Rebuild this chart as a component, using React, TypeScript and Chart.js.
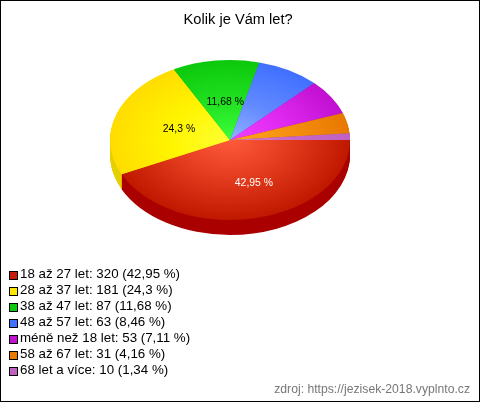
import React, { useEffect, useRef } from "react";
import { Chart, registerables } from "chart.js";

Chart.register(...registerables);

const categories = ["18 až 27 let", "28 až 37 let", "38 až 47 let", "48 až 57 let", "méně než 18 let", "58 až 67 let", "68 let a více"];
const counts = [320, 181, 87, 63, 53, 31, 10];
const percents = ["42,95", "24,3", "11,68", "8,46", "7,11", "4,16", "1,34"];
const innerColors = ["#ff5a3c", "#ffff33", "#3dff3d", "#90b0ff", "#f040ff", "#ffa41f", "#d080d0"];
const midColors = ["#e23a1c", "#fff500", "#20e020", "#6088ff", "#e028f0", "#f59010", "#c868c8"];
const outerColors = ["#c01800", "#ffdc00", "#0cc80c", "#4070ff", "#c010d0", "#e87800", "#c060c0"];
const sideColors = ["#aa0000", "#e6cf00", "#0a9a0a", "#2f55c0", "#900a9c", "#b85f00", "#9a4a9a"];
const legendColors = ["#c41e0a", "#ffe600", "#0cc80c", "#4070ff", "#c010d0", "#e87800", "#c060c0"];
const labelNudges = [[11.5, 4], [2.5, 2], [2, 1.5]];

const FONT = "'Liberation Sans', Arial, sans-serif";
const CX = 230, CY = 140, SCALE_Y = 80 / 120, DEPTH = 15, RADIUS = 120;

const applyPieTransform = (chart: any, ctx: CanvasRenderingContext2D, dy = 0) => {
  const el = chart.getDatasetMeta(0).data[0];
  ctx.translate(CX, CY + dy);
  ctx.scale(1, SCALE_Y);
  ctx.translate(-el.x, -el.y);
};

const piePlugin = {
  id: "pie3d",
  beforeDraw(chart: any) {
    const { ctx, width, height } = chart;
    ctx.save();
    ctx.fillStyle = "#fff";
    ctx.fillRect(0, 0, width, height);
    ctx.restore();
  },
  beforeDatasetsDraw(chart: any) {
    const ctx = chart.ctx;
    const arcs = chart.getDatasetMeta(0).data;
    for (let d = DEPTH; d >= 1; d--) {
      arcs.forEach((a: any, i: number) => {
        ctx.save();
        applyPieTransform(chart, ctx, d);
        ctx.fillStyle = sideColors[i];
        ctx.beginPath();
        ctx.moveTo(a.x, a.y);
        ctx.arc(a.x, a.y, a.outerRadius, a.startAngle, a.endAngle);
        ctx.closePath();
        ctx.fill();
        ctx.restore();
      });
    }
    ctx.save();
    applyPieTransform(chart, ctx);
  },
  afterDatasetsDraw(chart: any) {
    const ctx = chart.ctx;
    ctx.restore();
    const arcs = chart.getDatasetMeta(0).data;
    ctx.save();
    ctx.font = `10.4px ${FONT}`;
    ctx.textAlign = "center";
    ctx.textBaseline = "middle";
    labelNudges.forEach((n, i) => {
      const a = arcs[i];
      const mid = (a.startAngle + a.endAngle) / 2;
      ctx.fillStyle = i === 0 ? "#fff" : "#000";
      ctx.fillText(
        `${percents[i]} %`,
        CX + Math.cos(mid) * RADIUS * 0.47 + n[0],
        CY + Math.sin(mid) * RADIUS * SCALE_Y * 0.5 + n[1]
      );
    });
    ctx.restore();
  },
  afterDraw(chart: any) {
    const { ctx, width, height } = chart;
    ctx.save();
    ctx.strokeStyle = "#000";
    ctx.lineWidth = 1;
    ctx.strokeRect(0.5, 0.5, width - 1, height - 1);
    (chart.legend.legendHitBoxes || []).forEach((h: any, i: number) => {
      const x = Math.round(h.left);
      const y = Math.round(h.top + h.height / 2 - 4);
      ctx.fillStyle = legendColors[i];
      ctx.fillRect(x + 0.5, y + 0.5, 8, 8);
      ctx.strokeStyle = "#000";
      ctx.strokeRect(x + 0.5, y + 0.5, 8, 8);
    });
    ctx.restore();
  },
};

export default function App() {
  const ref = useRef<HTMLCanvasElement>(null);
  useEffect(() => {
    document.body.style.margin = "0";
    const chart = new Chart(ref.current!, {
      type: "pie",
      data: {
        labels: categories,
        datasets: [
          {
            data: counts,
            clip: false,
            borderWidth: 0,
            radius: RADIUS,
            backgroundColor: (c: any) => {
              const area = c.chart.chartArea;
              if (!area) return legendColors[c.dataIndex];
              const x = (area.left + area.right) / 2;
              const y = (area.top + area.bottom) / 2;
              const g = c.chart.ctx.createRadialGradient(x, y, 0, x, y, RADIUS);
              g.addColorStop(0, innerColors[c.dataIndex]);
              g.addColorStop(0.5, midColors[c.dataIndex]);
              g.addColorStop(1, outerColors[c.dataIndex]);
              return g;
            },
          } as any,
        ],
      },
      options: {
        responsive: false,
        animation: false,
        rotation: 90,
        layout: { padding: { left: 6.33, right: 10, top: 0, bottom: 0 } },
        plugins: {
          tooltip: { enabled: false },
          title: {
            display: true,
            text: "Kolik je Vám let?",
            color: "#000",
            font: { family: FONT, size: 14.67, weight: "normal" },
            padding: { top: 11, bottom: 0 },
          },
          subtitle: {
            display: true,
            text: "zdroj: https://jezisek-2018.vyplnto.cz",
            position: "bottom",
            align: "end",
            color: "#777",
            font: { family: FONT, size: 12.2, weight: "normal" },
            padding: { top: 2.5, bottom: 5 },
          },
          legend: {
            position: "left",
            align: "end",
            fullSize: false,
            labels: {
              boxWidth: 4.33,
              boxHeight: 8,
              padding: 2.67,
              color: "#000",
              font: { family: FONT, size: 13.33, lineHeight: 0.9 },
              generateLabels: () =>
                categories.map((c, i) => ({
                  text: `${c}: ${counts[i]} (${percents[i]} %)`,
                  fillStyle: "rgba(0,0,0,0)",
                  strokeStyle: "rgba(0,0,0,0)",
                  lineWidth: 0,
                  index: i,
                })),
            },
          },
        },
      },
      plugins: [piePlugin],
    } as any);
    return () => chart.destroy();
  }, []);
  return <canvas ref={ref} width={480} height={402} style={{ display: "block" }} />;
}
